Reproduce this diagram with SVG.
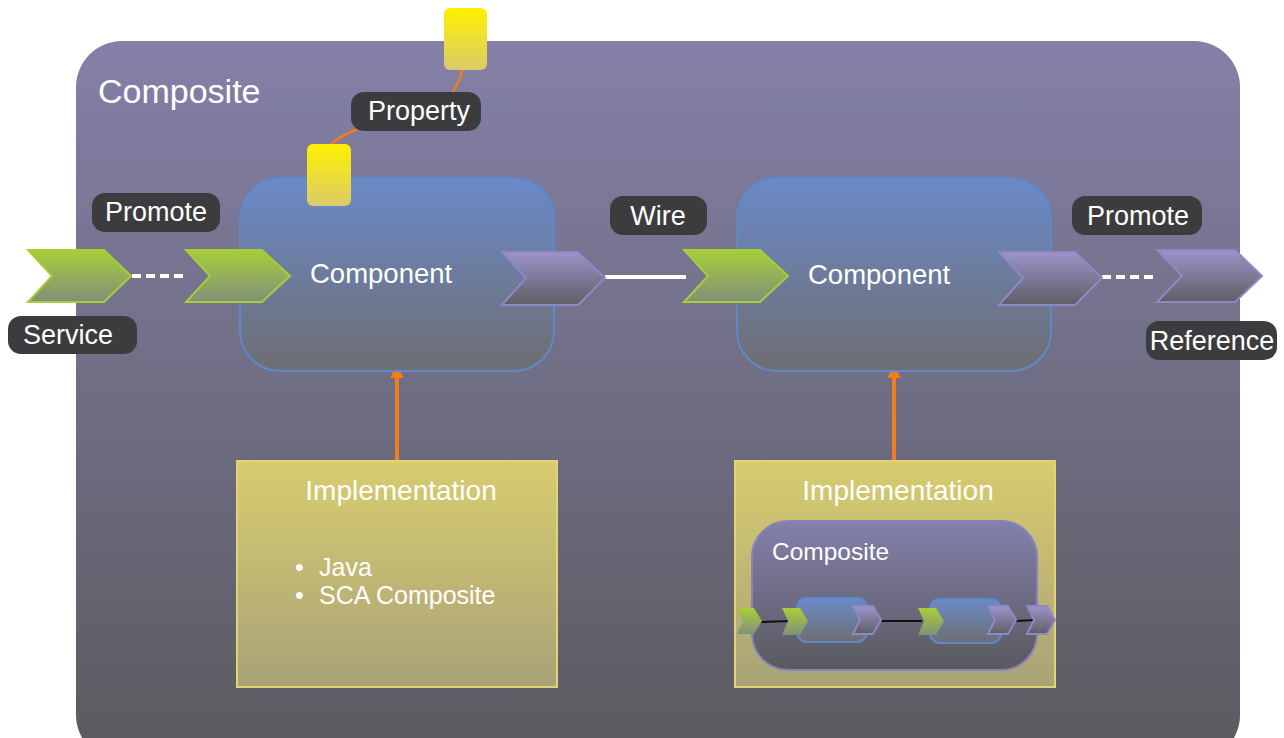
<svg xmlns="http://www.w3.org/2000/svg" width="1284" height="738" viewBox="0 0 1284 738">
<defs>
<linearGradient id="gOuter" x1="0" y1="0" x2="0" y2="1"><stop offset="0" stop-color="#8480A8"/><stop offset="1" stop-color="#5A5A5E"/></linearGradient>
<linearGradient id="gComp" x1="0" y1="0" x2="0" y2="1"><stop offset="0" stop-color="#6A8AC8"/><stop offset="1" stop-color="#6E6E72"/></linearGradient>
<linearGradient id="gGreen" x1="0" y1="0" x2="0" y2="1"><stop offset="0" stop-color="#A8CE38"/><stop offset="1" stop-color="#80907A"/></linearGradient>
<linearGradient id="gPurple" x1="0" y1="0" x2="0" y2="1"><stop offset="0" stop-color="#9C94CA"/><stop offset="1" stop-color="#5E5E64"/></linearGradient>
<linearGradient id="gYellow" x1="0" y1="0" x2="0" y2="1"><stop offset="0" stop-color="#FFF000"/><stop offset="1" stop-color="#DACB6A"/></linearGradient>
<linearGradient id="gImpl" x1="0" y1="0" x2="0" y2="1"><stop offset="0" stop-color="#D8CC6E"/><stop offset="1" stop-color="#A9A278"/></linearGradient>
<linearGradient id="gInner" x1="0" y1="0" x2="0" y2="1"><stop offset="0" stop-color="#8480AC"/><stop offset="1" stop-color="#59595E"/></linearGradient>
<marker id="arr" viewBox="0 0 10 10" refX="3" refY="5" markerWidth="3.5" markerHeight="3.5" orient="auto"><path d="M0,0 L10,5 L0,10 z" fill="#F07D1E"/></marker>
</defs>
<style>
text{font-family:"Liberation Sans",Arial,sans-serif;fill:#ffffff}
.lbl{fill:#3C3C3E}
.lt{font-size:27px;text-anchor:middle}
.green{fill:url(#gGreen);stroke:#A6CE39;stroke-width:2}
.purple{fill:url(#gPurple);stroke:#9088C6;stroke-width:2}
.comp{fill:url(#gComp);stroke:#6088C8;stroke-width:2}
.yel{fill:url(#gYellow)}
.impl{fill:url(#gImpl);stroke:#E2D472;stroke-width:2}
.orange{stroke:#F07D1E;fill:none}
</style>

<g id="outer-composite">
<rect x="76" y="41" width="1164" height="720" rx="46" fill="url(#gOuter)"/>
<text x="98" y="103" font-size="34">Composite</text>
</g>

<g id="connectors">
<line x1="132" y1="276" x2="186" y2="276" stroke="#ffffff" stroke-width="4" stroke-dasharray="9,5"/>
<line x1="605" y1="277" x2="686" y2="277" stroke="#ffffff" stroke-width="4"/>
<line x1="1102" y1="277" x2="1158" y2="277" stroke="#ffffff" stroke-width="4" stroke-dasharray="9,5"/>
<path class="orange" stroke-width="2.5" d="M462,70 C460,80 457,86 452,93"/>
<path class="orange" stroke-width="2.5" d="M358,129 C345,134 336,139 331,145"/>
<line class="orange" x1="397" y1="461" x2="397" y2="374" stroke-width="4" marker-end="url(#arr)"/>
<line class="orange" x1="894" y1="461" x2="894" y2="374" stroke-width="4" marker-end="url(#arr)"/>
</g>

<g id="component1">
<rect class="comp" x="240" y="178" width="314" height="193" rx="40"/>
<text x="310" y="283" font-size="27.5">Component</text>
</g>
<g id="component2">
<rect class="comp" x="737" y="178" width="314" height="193" rx="40"/>
<text x="808" y="284" font-size="27.5">Component</text>
</g>

<g id="property-top"><rect class="yel" x="444" y="8" width="43" height="62" rx="6"/></g>
<g id="property-comp"><rect class="yel" x="307" y="144" width="44" height="62" rx="6"/></g>

<g id="service-chevron"><polygon class="green" points="28,250 104,250 131,276 104,302 28,302 52,276"/></g>
<g id="comp1-service"><polygon class="green" points="186,250 262,250 290,276 262,302 186,302 210,276"/></g>
<g id="comp1-reference"><polygon class="purple" points="502,252 578,252 605,278 578,305 502,305 526,278"/></g>
<g id="comp2-service"><polygon class="green" points="684,250 760,250 788,276 760,302 684,302 708,276"/></g>
<g id="comp2-reference"><polygon class="purple" points="999,252 1075,252 1102,278 1075,305 999,305 1023,278"/></g>
<g id="reference-chevron"><polygon class="purple" points="1157,250 1235,250 1262,276 1235,302 1157,302 1182,276"/></g>

<g id="label-promote1"><rect class="lbl" x="92" y="193" width="128" height="39" rx="13"/><text class="lt" x="156" y="221">Promote</text></g>
<g id="label-service"><rect class="lbl" x="8" y="316" width="129" height="38" rx="13"/><text class="lt" x="68" y="344">Service</text></g>
<g id="label-property"><rect class="lbl" x="351" y="92" width="130" height="39" rx="13"/><text class="lt" x="419" y="120">Property</text></g>
<g id="label-wire"><rect class="lbl" x="610" y="196" width="97" height="39" rx="13"/><text class="lt" x="658" y="225">Wire</text></g>
<g id="label-promote2"><rect class="lbl" x="1072" y="196" width="130" height="39" rx="13"/><text class="lt" x="1138" y="225">Promote</text></g>
<g id="label-reference"><rect class="lbl" x="1146" y="321" width="131" height="39" rx="13"/><text class="lt" x="1212" y="350">Reference</text></g>

<g id="implementation1">
<rect class="impl" x="237" y="461" width="320" height="226"/>
<text x="401" y="500" font-size="28" text-anchor="middle">Implementation</text>
<text x="295" y="576" font-size="25">•</text>
<text x="319" y="576" font-size="25">Java</text>
<text x="295" y="604" font-size="25">•</text>
<text x="319" y="604" font-size="25">SCA Composite</text>
</g>

<g id="implementation2">
<rect class="impl" x="735" y="461" width="320" height="226"/>
<text x="898" y="500" font-size="28" text-anchor="middle">Implementation</text>
<rect x="752" y="521" width="285" height="149" rx="36" fill="url(#gInner)" stroke="#8A82BC" stroke-width="2"/>
<text x="772" y="560" font-size="24.5">Composite</text>
<g id="mini-wires">
<line x1="760" y1="622" x2="790" y2="621" stroke="#111111" stroke-width="2"/>
<line x1="880" y1="621" x2="922" y2="621" stroke="#111111" stroke-width="2"/>
<line x1="1015" y1="621" x2="1034" y2="620" stroke="#111111" stroke-width="2"/>
</g>
<rect class="comp" x="797" y="598" width="70" height="44" rx="10" stroke-width="1.5"/>
<rect class="comp" x="930" y="599" width="71" height="44" rx="10" stroke-width="1.5"/>
<polygon points="737,608 754,608 762,621 754,634 737,634 743,621" fill="url(#gGreen)"/>
<polygon points="782,608 800,608 808,621 800,635 782,635 788,621" fill="url(#gGreen)"/>
<polygon class="purple" stroke-width="1.5" points="853,606 873,606 881,620 873,634 853,634 860,620"/>
<polygon points="918,608 936,608 944,621 936,635 918,635 924,621" fill="url(#gGreen)"/>
<polygon class="purple" stroke-width="1.5" points="988,606 1008,606 1016,620 1008,634 988,634 995,620"/>
<polygon class="purple" stroke-width="1.5" points="1027,606 1047,606 1055,620 1047,634 1027,634 1034,620"/>
</g>
</svg>
